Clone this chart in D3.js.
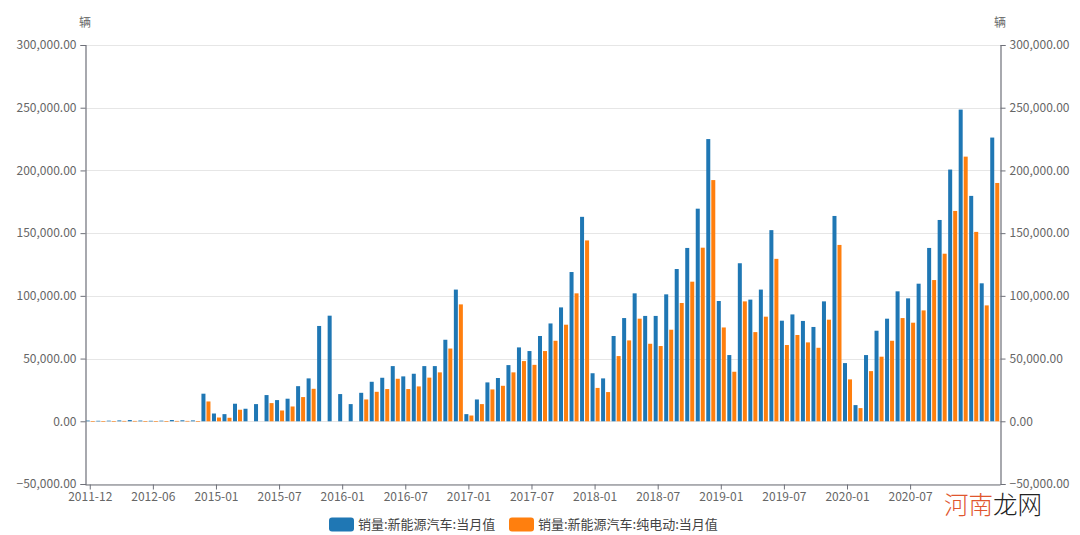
<!DOCTYPE html>
<html>
<head>
<meta charset="utf-8">
<script src="https://cdn.jsdelivr.net/npm/d3@7/dist/d3.min.js"></script>
<style>
  html, body { margin: 0; padding: 0; background: #ffffff; }
  svg { display: block; }
  text { font-family: "Noto Sans CJK SC", "Noto Sans", sans-serif; }
</style>
</head>
<body>
<svg id="chart" width="1080" height="535"></svg>
<script>
// ---- data ----
const categories = [
  "2011-12","2012-01","2012-02","2012-03","2012-04","2012-05","2012-06","2012-07","2012-08","2012-09","2012-10","2014-12",
  "2015-01","2015-02","2015-03","2015-04","2015-05","2015-06","2015-07","2015-08","2015-09","2015-10","2015-11","2015-12",
  "2016-01","2016-02","2016-03","2016-04","2016-05","2016-06","2016-07","2016-08","2016-09","2016-10","2016-11","2016-12",
  "2017-01","2017-02","2017-03","2017-04","2017-05","2017-06","2017-07","2017-08","2017-09","2017-10","2017-11","2017-12",
  "2018-01","2018-02","2018-03","2018-04","2018-05","2018-06","2018-07","2018-08","2018-09","2018-10","2018-11","2018-12",
  "2019-01","2019-02","2019-03","2019-04","2019-05","2019-06","2019-07","2019-08","2019-09","2019-10","2019-11","2019-12",
  "2020-01","2020-02","2020-03","2020-04","2020-05","2020-06","2020-07","2020-08","2020-09","2020-10","2020-11","2020-12",
  "2021-01","2021-02","2021-03"
];
const nevTotal = [
  600, 400, 500, 700, 1000, 600, 400, 500, 1000, 800, 700, 22000,
  6200, 5700, 14000, 10000, 13700, 20900, 16900, 18000, 28000, 34200, 76000, 84200,
  21700, 13700, 22700, 31500, 34700, 44000, 35800, 37900, 44000, 44000, 65000, 105000,
  5700, 17400, 31000, 34500, 44800, 58900, 56000, 68000, 78000, 90800, 119000, 163000,
  38300, 34200, 68000, 82300, 102000, 84000, 84000, 101200, 121400, 138200, 169500, 225000,
  95900, 52800, 126000, 97000, 105000, 152400, 80200, 85200, 80000, 75200, 95600, 163700,
  46400, 12900, 52800, 72200, 81800, 103600, 98000, 109700, 138200, 160500, 200700, 248500,
  179700, 110000, 226200
];
const nevBEV = [
  200, 100, 200, 300, 300, 200, 100, 200, 300, 300, 200, 15800,
  3000, 2800, 9200, null, null, 14500, 8600, 11800, 19300, 25900, null, null,
  null, null, 17400, 23500, 25700, 33900, 25700, 27800, 34800, 39000, 58000, 93200,
  4600, 13700, 25400, 28300, 39000, 48000, 45000, 56000, 64200, 77000, 102000, 144200,
  26600, 23300, 52000, 64500, 81800, 61800, 60000, 73000, 94300, 111300, 138400, 192300,
  74800, 39500, 95600, 71100, 83400, 129500, 60800, 68800, 62900, 58600, 81000, 140600,
  33400, 10500, 40000, 51500, 64200, 82300, 78600, 88400, 112600, 133600, 167700, 211000,
  151000, 92400, 190000
];
const seriesNames = ["销量:新能源汽车:当月值", "销量:新能源汽车:纯电动:当月值"];
const seriesColors = ["#1f77b4", "#ff7f0e"];
const yTicks = [-50000, 0, 50000, 100000, 150000, 200000, 250000, 300000];
const xTickLabels = ["2011-12","2012-06","2015-01","2015-07","2016-01","2016-07","2017-01","2017-07",
  "2018-01","2018-07","2019-01","2019-07","2020-01","2020-07"];
const unitLabel = "辆";

// ---- layout ----
const svg = d3.select("#chart");
const mLeft = 85, mRight = 1000, mTop = 45, mBottom = 484;

const x = d3.scaleBand().domain(categories).range([mLeft, mRight]).paddingInner(0).paddingOuter(0);
const x1 = d3.scaleBand().domain([0, 1]).range([0, x.bandwidth()]).paddingInner(0.2).paddingOuter(0.15);
const y = d3.scaleLinear().domain([-50000, 300000]).range([mBottom, mTop]);
const fmt = d3.format(",.2f");

// grid lines
svg.append("g").selectAll("line").data(yTicks).join("line")
  .attr("x1", mLeft).attr("x2", mRight)
  .attr("y1", d => Math.round(y(d)) + 0.5).attr("y2", d => Math.round(y(d)) + 0.5)
  .attr("stroke", "#e6e6e6").attr("stroke-width", 1);

// bars
const data = categories.map((c, i) => ({ c, vals: [nevTotal[i], nevBEV[i]] }));
const groups = svg.append("g").selectAll("g").data(data).join("g")
  .attr("transform", d => `translate(${x(d.c)},0)`);
groups.selectAll("rect")
  .data(d => d.vals.map((v, k) => ({ v, k })).filter(e => e.v != null))
  .join("rect")
  .attr("x", e => x1(e.k))
  .attr("width", x1.bandwidth())
  .attr("y", e => y(e.v))
  .attr("height", e => Math.max(0.6, y(0) - y(e.v)))
  .attr("fill", e => seriesColors[e.k]);

// y axes
const axisColor = "#6e7079";
const yAxisL = d3.axisLeft(y).tickValues(yTicks).tickFormat(fmt).tickSize(5).tickPadding(4);
const gL = svg.append("g").attr("transform", `translate(${mLeft + 0.5},0)`).call(yAxisL);
const yAxisR = d3.axisRight(y).tickValues(yTicks).tickFormat(fmt).tickSize(5).tickPadding(4);
const gR = svg.append("g").attr("transform", `translate(${mRight + 0.5},0)`).call(yAxisR);
[gL, gR].forEach(g => {
  g.select(".domain").attr("stroke", axisColor).attr("stroke-width", 1.2);
  g.selectAll(".tick line").attr("stroke", axisColor);
  g.selectAll(".tick text").attr("fill", "#666").style("font-size", "12px")
    .style("font-family", "'Noto Sans CJK SC', sans-serif");
});

// bottom axis
const xAxis = d3.axisBottom(x).tickValues(xTickLabels).tickSize(5).tickPadding(3).tickSizeOuter(0);
const gX = svg.append("g").attr("transform", `translate(0,${mBottom + 0.5})`).call(xAxis);
gX.select(".domain").attr("stroke", axisColor).attr("stroke-width", 1.2);
gX.selectAll(".tick line").attr("stroke", axisColor);
gX.selectAll(".tick text").attr("fill", "#666").style("font-size", "12px")
  .style("font-family", "'Noto Sans CJK SC', sans-serif");

// unit labels
[mLeft, mRight].forEach(px => {
  svg.append("text").attr("x", px).attr("y", 27).attr("text-anchor", "middle")
    .attr("fill", "#666").style("font-size", "12px").text(unitLabel);
});

// legend
const legendX = [329, 509];
legendX.forEach((lx, k) => {
  svg.append("rect").attr("x", lx).attr("y", 517.5).attr("width", 25).attr("height", 14)
    .attr("rx", 3).attr("fill", seriesColors[k]);
  svg.append("text").attr("x", lx + 29).attr("y", 529).attr("fill", "#444")
    .style("font-size", "13px").text(seriesNames[k]);
});

// watermark
const wm = svg.append("text").attr("x", 944).attr("y", 514).style("font-size", "24.5px")
  .style("font-weight", "300");
wm.append("tspan").attr("fill", "#e0562e").text("河南");
wm.append("tspan").attr("fill", "#222").text("龙网");
</script>
</body>
</html>
